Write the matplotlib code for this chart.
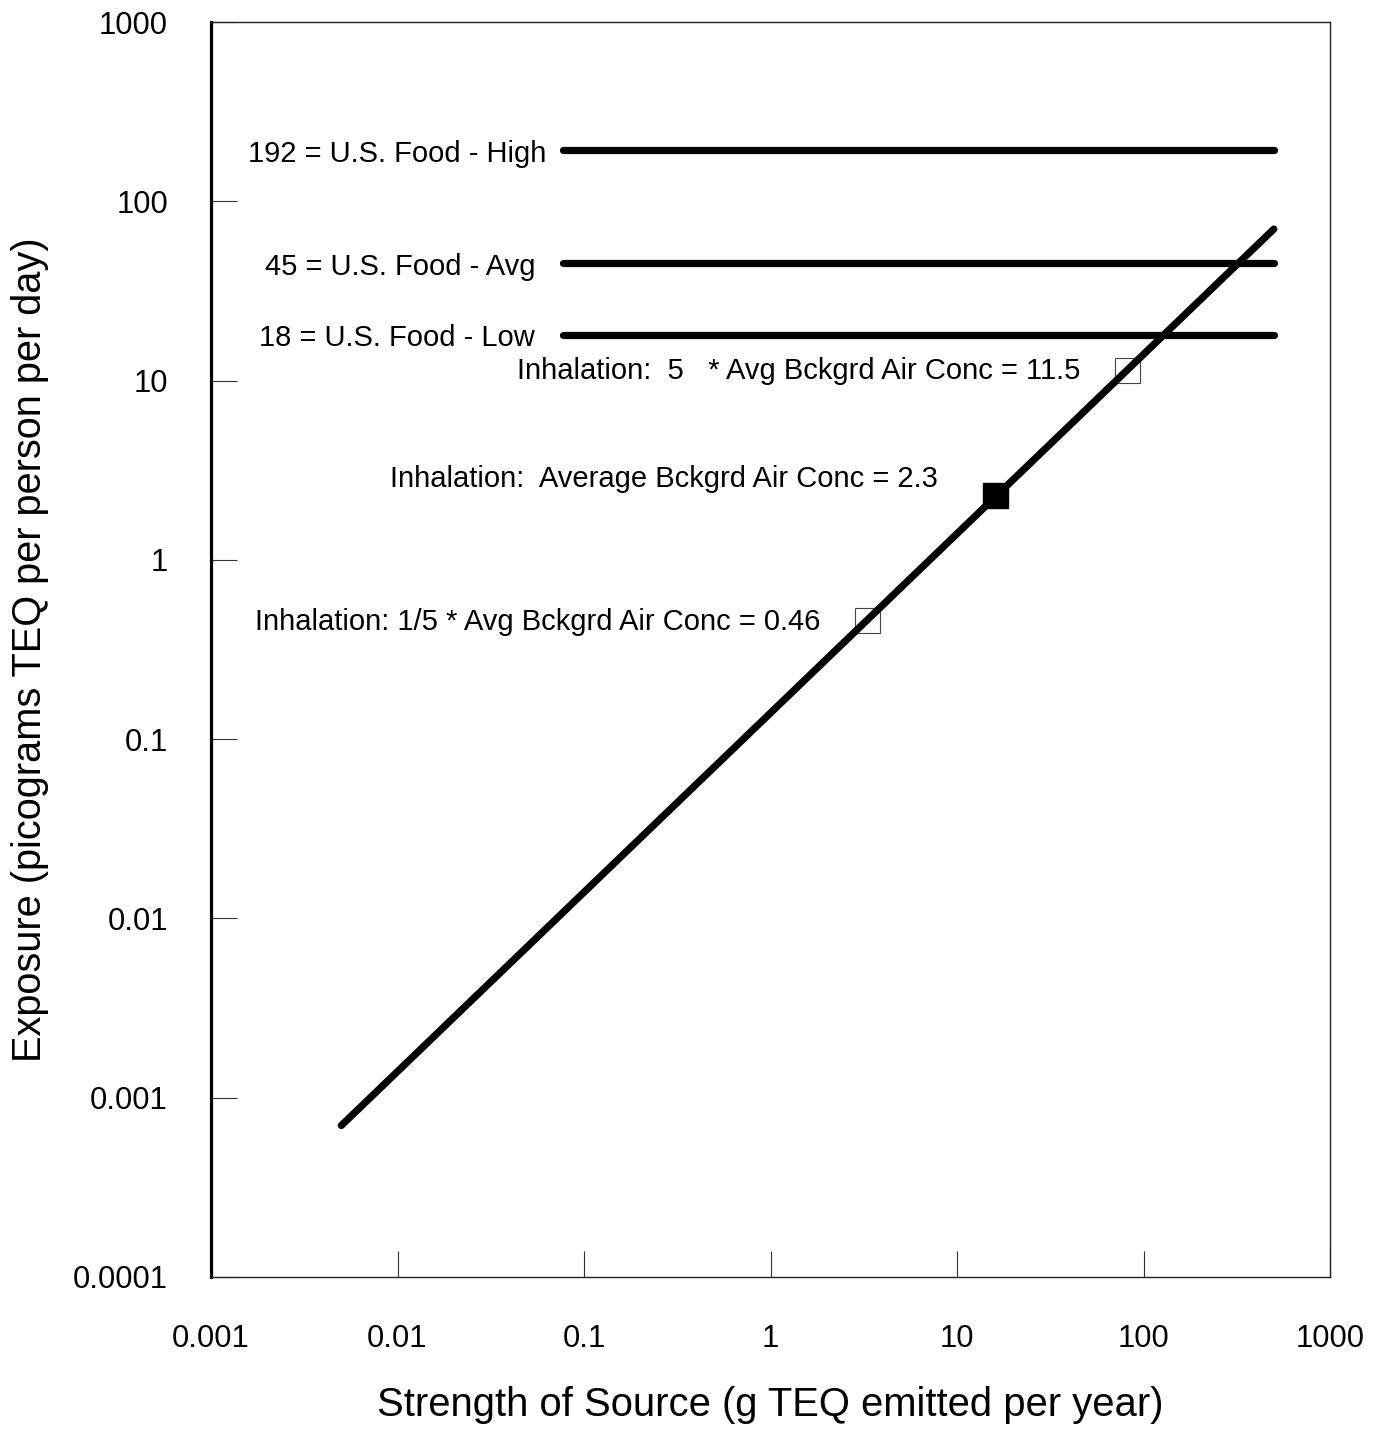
import matplotlib
matplotlib.use("Agg")
import matplotlib.pyplot as plt
import numpy as np

plt.rcParams['font.family'] = ['Liberation Sans', 'DejaVu Sans']

# Data
source_line_x = [0.005, 500]
source_line_y = [0.0007, 70]
food_levels = [192, 45, 18]
food_labels = ["192 = U.S. Food - High", "45 = U.S. Food - Avg", "18 = U.S. Food - Low"]
food_x_range = [0.077, 500]
inh_x = [3.3, 16, 82]
inh_y = [0.46, 2.3, 11.5]
inh_filled = [False, True, False]
inh_labels = ["Inhalation: 1/5 * Avg Bckgrd Air Conc = 0.46",
              "Inhalation:  Average Bckgrd Air Conc = 2.3",
              "Inhalation:  5   * Avg Bckgrd Air Conc = 11.5"]
x_ticks = [0.001, 0.01, 0.1, 1, 10, 100, 1000]
x_ticklabels = ["0.001", "0.01", "0.1", "1", "10", "100", "1000"]
y_ticks = [0.0001, 0.001, 0.01, 0.1, 1, 10, 100, 1000]
y_ticklabels = ["0.0001", "0.001", "0.01", "0.1", "1", "10", "100", "1000"]

fig = plt.figure(figsize=(13.83, 14.29), dpi=100)
ax = fig.add_axes([211/1383, 152/1429, (1330-211)/1383, (1277-22)/1429])
ax.set_xscale('log')
ax.set_yscale('log')
ax.set_xlim(0.001, 1000)
ax.set_ylim(0.0001, 1000)

LW = 5.2
TXT = 21

# diagonal line
ax.plot(source_line_x, source_line_y, color='black', lw=LW, solid_capstyle='round', zorder=3)

# food lines
food_offsets = [-11.5, -20, -20]
for lvl, lab, off in zip(food_levels, food_labels, food_offsets):
    ax.plot(food_x_range, [lvl, lvl], color='black', lw=LW, solid_capstyle='round', zorder=3)
    ax.annotate(lab, xy=(food_x_range[0], lvl), xytext=(off, -2.5), textcoords='offset points',
                ha='right', va='center', fontsize=TXT)

# inhalation markers
inh_offsets = [(-34, -1), (-41, 11.5), (-34, -1)]
for x, y, f, lab, off in zip(inh_x, inh_y, inh_filled, inh_labels, inh_offsets):
    if f:
        ax.plot([x], [y], marker='s', markersize=18, color='black', zorder=4, linestyle='none')
    else:
        ax.plot([x], [y], marker='s', markersize=18, markerfacecolor='none',
                markeredgecolor='#444444', markeredgewidth=0.8, zorder=2, linestyle='none')
    ax.annotate(lab, xy=(x, y), xytext=off, textcoords='offset points',
                ha='right', va='center', fontsize=TXT)

ax.set_xticks(x_ticks)
ax.set_xticklabels(x_ticklabels)
ax.set_yticks(y_ticks)
ax.set_yticklabels(y_ticklabels)
ax.minorticks_off()
ax.tick_params(axis='x', direction='in', length=19, width=0.8, pad=34, labelsize=22.3, color='#333333')
ax.tick_params(axis='y', direction='in', length=19, width=0.8, pad=31, labelsize=22.3, color='#333333')

for s in ['top', 'right', 'bottom']:
    ax.spines[s].set_linewidth(1.0)
    ax.spines[s].set_color('#222222')
ax.spines['left'].set_linewidth(2.3)
ax.spines['left'].set_color('black')

ax.set_xlabel("Strength of Source (g TEQ emitted per year)", fontsize=28.8, labelpad=23)
ax.set_ylabel("Exposure (picograms TEQ per person per day)", fontsize=28.6, labelpad=17)

fig.savefig("out.png", dpi=100)
